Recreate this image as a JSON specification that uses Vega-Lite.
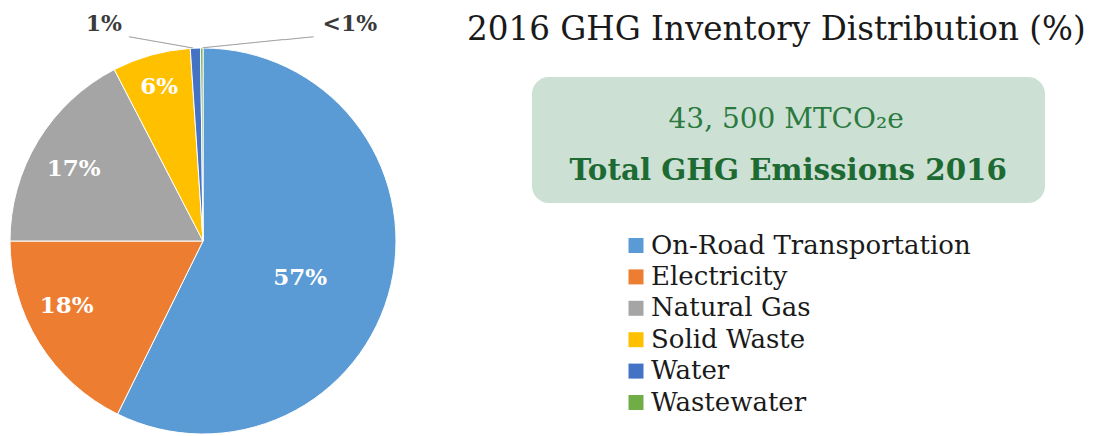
{
  "$schema": "https://vega.github.io/schema/vega-lite/v6.json",
  "width": 406,
  "height": 386,
  "autosize": {"type": "none"},
  "padding": {"left": 0, "top": 48, "right": 687, "bottom": 2},
  "background": "white",
  "config": {"view": {"stroke": null}},
  "title": {
    "text": "2016 GHG Inventory Distribution (%)",
    "anchor": "start",
    "frame": "group",
    "dx": 467,
    "dy": 40,
    "offset": 6,
    "font": "DejaVu Serif",
    "fontSize": 32.6,
    "fontWeight": "normal",
    "color": "#1a1a1a"
  },
  "data": {
    "values": [
      {"category": "On-Road Transportation", "value": 57.3, "label": "57%", "rank": 1},
      {"category": "Electricity", "value": 17.7, "label": "18%", "rank": 2},
      {"category": "Natural Gas", "value": 17.4, "label": "17%", "rank": 3},
      {"category": "Solid Waste", "value": 6.55, "label": "6%", "rank": 4},
      {"category": "Water", "value": 0.85, "label": "1%", "rank": 5},
      {"category": "Wastewater", "value": 0.2, "label": "<1%", "rank": 6}
    ]
  },
  "layer": [
    {
      "mark": {"type": "arc", "outerRadius": 193, "stroke": "#ffffff", "strokeWidth": 1},
      "encoding": {
        "theta": {"field": "value", "type": "quantitative", "stack": true},
        "order": {"field": "rank", "type": "quantitative"},
        "color": {
          "field": "category",
          "type": "nominal",
          "sort": ["On-Road Transportation", "Electricity", "Natural Gas", "Solid Waste", "Water", "Wastewater"],
          "scale": {
            "domain": ["On-Road Transportation", "Electricity", "Natural Gas", "Solid Waste", "Water", "Wastewater"],
            "range": ["#5B9BD5", "#ED7D31", "#A5A5A5", "#FFC000", "#4472C4", "#70AD47"]
          },
          "legend": {
            "orient": "none",
            "legendX": 623,
            "legendY": 184.5,
            "title": null,
            "padding": 0,
            "symbolType": "square",
            "symbolSize": 225,
            "symbolStrokeWidth": 0,
            "labelFont": "DejaVu Serif",
            "labelFontSize": 26,
            "labelColor": "#1a1a1a",
            "labelOffset": 2,
            "labelLimit": 600,
            "rowPadding": 5.4
          }
        }
      }
    },
    {
      "mark": {
        "type": "text",
        "font": "DejaVu Serif",
        "fontWeight": "bold",
        "fontSize": {"expr": "datum.rank <= 4 ? 23 : 22"},
        "fill": {"expr": "datum.rank <= 4 ? '#ffffff' : '#3a3a3a'"},
        "radius": {"expr": "datum.rank == 1 ? 104 : datum.rank == 2 ? 151 : datum.rank == 3 ? 148 : datum.rank == 4 ? 160 : 193"},
        "dx": {"expr": "datum.rank == 1 ? -4 : datum.rank == 2 ? -8 : datum.rank == 3 ? -3 : datum.rank == 4 ? -1 : datum.rank == 5 ? -91.5 : 148"},
        "dy": {"expr": "datum.rank == 1 ? 13 : datum.rank == 2 ? -15 : datum.rank == 3 ? 5 : datum.rank == 4 ? 0 : -24"}
      },
      "encoding": {
        "theta": {"field": "value", "type": "quantitative", "stack": true},
        "order": {"field": "rank", "type": "quantitative"},
        "detail": {"field": "category", "type": "nominal"},
        "text": {"field": "label", "type": "nominal"}
      }
    },
    {
      "mark": {
        "type": "text",
        "font": "DejaVu Sans Mono",
        "fontSize": {"expr": "datum.rank == 6 ? 12.3 : 12"},
        "fill": "#a6a6a6",
        "radius": 193,
        "text": {"expr": "datum.rank == 5 ? '─────────' : datum.rank == 6 ? '───────────────' : ''"},
        "angle": {"expr": "datum.rank == 5 ? 9.8 : -5.7"},
        "dx": {"expr": "datum.rank == 5 ? -35 : 56.6"},
        "dy": {"expr": "datum.rank == 5 ? 0.25 : 0.1"}
      },
      "encoding": {
        "theta": {"field": "value", "type": "quantitative", "stack": true},
        "order": {"field": "rank", "type": "quantitative"},
        "detail": {"field": "category", "type": "nominal"}
      }
    },
    {
      "mark": {"type": "point", "opacity": 0},
      "encoding": {
        "shape": {
          "datum": "43, 500 MTCO₂e",
          "legend": {
            "orient": "none",
            "legendX": 532,
            "legendY": 29,
            "title": "\u200b\u00a0\u00a0Total GHG Emissions 2016\u00a0\u00a0\u200b",
            "titleOrient": "bottom",
            "titleFont": "DejaVu Serif",
            "titleFontSize": 29.3,
            "titleFontWeight": "bold",
            "titleColor": "#1d6b33",
            "titlePadding": 10.7,
            "titleLimit": 1000,
            "labelFont": "DejaVu Serif",
            "labelFontSize": 28,
            "labelColor": "#2a7a40",
            "labelOffset": 67.5,
            "labelLimit": 1000,
            "symbolSize": 2704,
            "symbolOpacity": 0,
            "symbolStrokeWidth": 0,
            "fillColor": "#cde0d4",
            "cornerRadius": 17,
            "padding": 17
          }
        }
      }
    }
  ]
}
